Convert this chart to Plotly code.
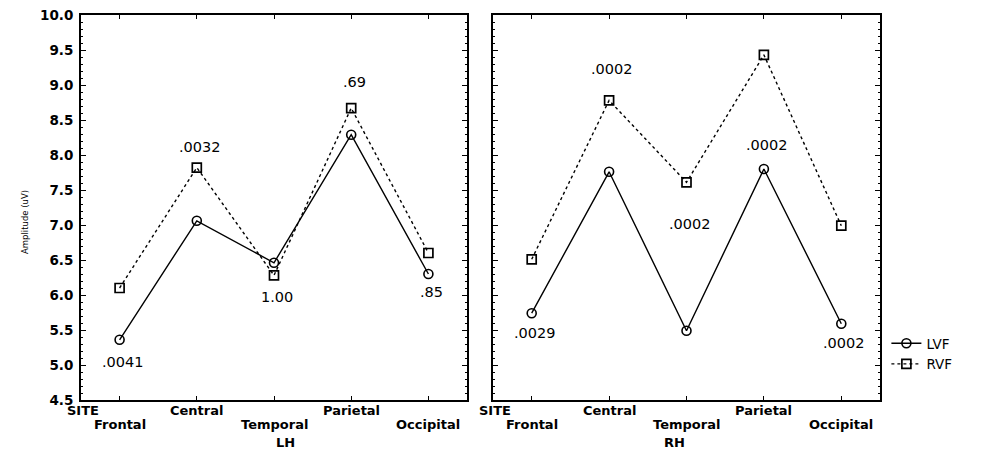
import plotly.graph_objects as go

sites = ["Frontal", "Central", "Temporal", "Parietal", "Occipital"]

lh_lvf = [5.36, 7.06, 6.46, 8.29, 6.3]
lh_rvf = [6.1, 7.82, 6.28, 8.67, 6.6]
rh_lvf = [5.74, 7.76, 5.49, 7.8, 5.59]
rh_rvf = [6.51, 8.78, 7.61, 9.43, 6.99]

lh_p = [".0041", ".0032", "1.00", ".69", ".85"]
rh_p = [".0029", ".0002", ".0002", ".0002", ".0002"]
# label anchor value (y) for each p-value
lh_p_y = [5.04, 8.11, 5.97, 9.04, 6.04]
rh_p_y = [5.46, 9.23, 7.01, 8.14, 5.31]

y_ticks = [4.5, 5.0, 5.5, 6.0, 6.5, 7.0, 7.5, 8.0, 8.5, 9.0, 9.5, 10.0]

FONT = "DejaVu Sans, Verdana, sans-serif"
xs = list(range(len(sites)))

fig = go.Figure()

def add_pair(lvf, rvf, xa, ya, show):
    fig.add_trace(go.Scatter(
        x=xs, y=lvf, mode="lines+markers", name="LVF", showlegend=show,
        line=dict(color="black", width=1.4, dash="solid"),
        marker=dict(symbol="circle-open", size=9, color="black", line=dict(width=1.6)),
        xaxis=xa, yaxis=ya))
    fig.add_trace(go.Scatter(
        x=xs, y=rvf, mode="lines+markers", name="RVF", showlegend=show,
        line=dict(color="black", width=1.4, dash="dot"),
        marker=dict(symbol="square-open", size=9, color="black", line=dict(width=1.7)),
        xaxis=xa, yaxis=ya))

add_pair(lh_lvf, lh_rvf, "x", "y", True)
add_pair(rh_lvf, rh_rvf, "x2", "y2", False)

# page pixel -> paper coordinates (page has an 8px body margin)
PW = 799
PH = 385

def px_x(p):
    return (p - 81) / PW

def px_y(p):
    return (400 - p) / PH

d1 = [0, 386 / PW]
d2 = [px_x(493), 1]

annotations = []
for i, (t, yv) in enumerate(zip(lh_p, lh_p_y)):
    annotations.append(dict(x=xs[i], y=yv, xref="x", yref="y", text=t, showarrow=False, xshift=3,
                            font=dict(family=FONT, size=14.5, color="black")))
for i, (t, yv) in enumerate(zip(rh_p, rh_p_y)):
    annotations.append(dict(x=xs[i], y=yv, xref="x2", yref="y2", text=t, showarrow=False, xshift=3,
                            font=dict(family=FONT, size=14.5, color="black")))

# staggered category labels
row_y = [425, 410, 425, 410, 425]
for xa in ("x", "x2"):
    for i, s in enumerate(sites):
        annotations.append(dict(x=xs[i], y=px_y(row_y[i]), xref=xa, yref="paper", text=f"<b>{s}</b>",
                                showarrow=False, yanchor="middle",
                                font=dict(family=FONT, size=13, color="black")))

# SITE labels and panel titles
for left in (81, 493):
    annotations.append(dict(x=px_x(left), y=px_y(410), xref="paper", yref="paper", text="<b>SITE</b>",
                            xanchor="center", yanchor="middle", showarrow=False, xshift=2,
                            font=dict(family=FONT, size=13, color="black")))
annotations.append(dict(x=sum(d1) / 2, y=px_y(442), xref="paper", yref="paper", text="<b>LH</b>",
                        yanchor="middle", showarrow=False, font=dict(family=FONT, size=13, color="black")))
annotations.append(dict(x=sum(d2) / 2, y=px_y(442), xref="paper", yref="paper", text="<b>RH</b>",
                        yanchor="middle", showarrow=False, font=dict(family=FONT, size=13, color="black")))
annotations.append(dict(x=px_x(18), y=px_y(222), xref="paper", yref="paper", text="Amplitude (uV)",
                        textangle=-90, showarrow=False, font=dict(family=FONT, size=8.5, color="black")))

axis_common = dict(showline=True, linecolor="black", linewidth=1.8, mirror="ticks",
                   ticks="inside", tickcolor="black", showgrid=False, zeroline=False, automargin=False)

fig.update_layout(
    width=999, height=453,
    margin=dict(l=73, r=127, t=7, b=61, autoexpand=False),
    paper_bgcolor="white", plot_bgcolor="white",
    font=dict(family=FONT, color="black"),
    xaxis=dict(domain=d1, range=[-0.5, 4.5], tickvals=xs, showticklabels=False,
               ticklen=4, **axis_common),
    xaxis2=dict(domain=d2, range=[-0.5, 4.5], tickvals=xs, showticklabels=False,
                ticklen=4, anchor="y2", **axis_common),
    yaxis=dict(range=[4.5, 10.0], tickvals=y_ticks, ticktext=[f"<b>{v:.1f}</b>" for v in y_ticks],
               ticklen=5, tickfont=dict(size=13.5), ticklabelstandoff=3, ticklabeloverflow="allow",
               minor=dict(dtick=0.1, ticklen=2, ticks="inside", tickcolor="black"),
               **axis_common),
    yaxis2=dict(range=[4.5, 10.0], tickvals=y_ticks, showticklabels=False, anchor="x2",
                ticklen=5, minor=dict(dtick=0.1, ticklen=2, ticks="inside", tickcolor="black"),
                **axis_common),
    legend=dict(x=1.008, y=px_y(328), xanchor="left", yanchor="top", bgcolor="rgba(0,0,0,0)",
                font=dict(family=FONT, size=13.5, color="black"), tracegroupgap=0, itemwidth=30),
    annotations=annotations,
)

fig.write_html("out.html")
